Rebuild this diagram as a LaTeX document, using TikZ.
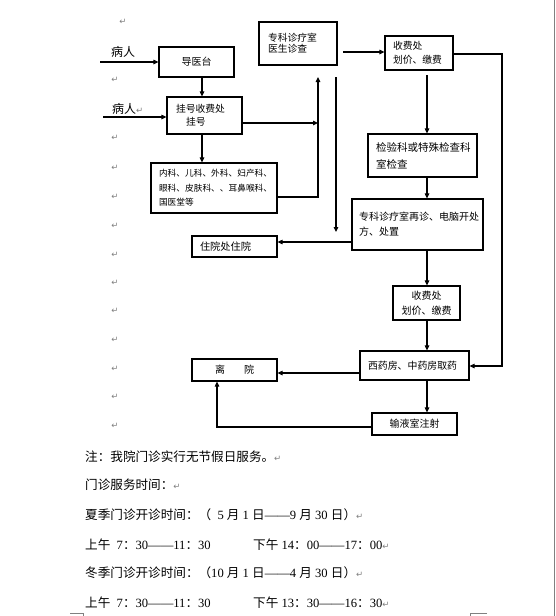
\documentclass[tikz,border=0pt]{standalone}
\usepackage{fontspec}
\setmainfont{Liberation Serif}
\newfontfamily\cjk{Noto Sans CJK SC}
\newfontfamily\markfont{DejaVu Sans}
\usetikzlibrary{arrows.meta}
\newcommand{\parmk}{{\markfont\fontsize{8.5}{8.5}\selectfont\textcolor{black!50}{↵}}}

\begin{document}
\begin{tikzpicture}[x=1pt, y=-1pt,
    box/.style={draw, line width=1.2pt, inner ysep=0pt, align=left},
    arr/.style={line width=1.1pt, -{Triangle[length=5pt,width=4.5pt]}},
    pm/.style={inner sep=0pt, font=\markfont\fontsize{8.5}{8.5}\selectfont, text=black!50},
    note/.style={anchor=west, inner sep=0pt, font=\fontsize{12.6}{14}\selectfont}]
    \fill[white] (0,0) rectangle (555,616);
    \useasboundingbox (0,0) rectangle (555,616);
    \draw[gray, line width=1pt] (554,0) -- (554,616);
    % boxes
    \node[box, inner xsep=7pt, text width=61pt, minimum height=30pt, align=center, font=\fontsize{10}{13}\cjk] (daoyi) at (196.5,62) {导医台};
    \node[box, inner xsep=9pt, text width=57pt, minimum height=37pt, font=\fontsize{9.8}{13}\cjk] (guahao) at (204.5,115.5) {挂号收费处\\\hspace*{10pt}挂号};
    \node[box, inner xsep=9pt, text width=60pt, minimum height=43pt, font=\fontsize{9.8}{11}\cjk] (zhuanke) at (298,43.5) {专科诊疗室\\医生诊查};
    \node[box, inner xsep=8pt, text width=52pt, minimum height=34pt, font=\fontsize{9.8}{14}\cjk] (shoufei1) at (419,53) {收费处\\划价、缴费};
    \node[box, inner xsep=8pt, text width=110pt, minimum height=50pt, font=\fontsize{8.7}{14.5}\cjk] (neike) at (214,188) {内科、儿科、外科、妇产科、\\眼科、皮肤科、、耳鼻喉科、\\国医堂等};
    \node[box, inner xsep=8pt, text width=69pt, minimum height=21pt, font=\fontsize{10.2}{12}\cjk] (zhuyuan) at (234.5,246.5) {住院处住院};
    \node[box, inner xsep=8pt, text width=93pt, minimum height=43pt, font=\fontsize{10.5}{17}\cjk] (jianyan) at (422.5,155.5) {检验科或特殊检查科\\室检查};
    \node[box, inner xsep=7pt, text width=117pt, minimum height=51pt, font=\fontsize{10}{15}\cjk] (zaizhen) at (417.5,224.5) {专科诊疗室再诊、电脑开处\\方、处置};
    \node[box, inner xsep=4pt, text width=59pt, minimum height=34pt, align=center, font=\fontsize{10}{15}\cjk] (shoufei2) at (426.5,303) {收费处\\划价、缴费};
    \node[box, inner xsep=8pt, text width=93pt, minimum height=29pt, font=\fontsize{9.9}{12}\cjk] (yaofang) at (414.5,365.5) {西药房、中药房取药};
    \node[box, inner xsep=4pt, text width=77pt, minimum height=22pt, align=center, font=\fontsize{10}{12}\cjk] (liyuan) at (234.5,370) {离\hspace*{19pt}院};
    \node[box, inner xsep=4pt, text width=77pt, minimum height=22pt, align=center, font=\fontsize{10}{12}\cjk] (shuye) at (414.5,424) {输液室注射};
    % patients
    \node[inner sep=0pt, font=\fontsize{12}{14}\cjk] (bingren1) at (123,52) {病人};
    \node[anchor=west, inner sep=0pt, font=\fontsize{12}{14}\cjk] (bingren2) at (112,109) {病人\parmk};
    % helper points
    \coordinate (c1) at (202,0);
    \coordinate (c4) at (427,0);
    \coordinate (in1) at (100,62);
    \coordinate (in2) at (103,117);
    \coordinate (j1) at (318,123);
    \coordinate (j2) at (318,197);
    \coordinate (j3) at (318,77);
    \coordinate (j4) at (336,77);
    \coordinate (j5) at (336,232);
    \coordinate (j6) at (343,52);
    \coordinate (j7) at (502,54);
    \coordinate (j8) at (502,366);
    \coordinate (j9) at (427,75);
    \coordinate (j11) at (217,427);
    \coordinate (r1) at (0,242);
    \coordinate (r2) at (0,373);
    % connectors
    \foreach \from/\to in {daoyi/guahao, guahao/neike}
        \draw[arr] (\from.south -| c1) -- (\to.north -| c1);
    \foreach \from/\to in {jianyan/zaizhen, zaizhen/shoufei2, shoufei2/yaofang, yaofang/shuye}
        \draw[arr] (\from.south -| c4) -- (\to.north -| c4);
    \draw[arr] (in1) -- (in1 -| daoyi.west);
    \draw[arr] (in2) -- (in2 -| guahao.west);
    \draw[arr] (guahao.east |- j1) -- (j1);
    \draw[arr] (neike.east |- j2) -- (j2) -- (j3);
    \draw[arr] (j4) -- (j5);
    \draw[arr] (j6) -- (j6 -| shoufei1.west);
    \draw[arr] (shoufei1.east |- j7) -- (j7) -- (j8) -- (j8 -| yaofang.east);
    \draw[arr] (j9) -- (jianyan.north -| c4);
    \draw[arr] (zaizhen.west |- r1) -- (zhuyuan.east |- r1);
    \draw[arr] (yaofang.west |- r2) -- (liyuan.east |- r2);
    \draw[arr] (shuye.west |- j11) -- (j11) -- (liyuan.south -| j11);
    % paragraph marks
    \node[pm] (pm0) at (123,22) {↵};
    \foreach \y in {80,138,168,197,226,255,283,311,340,369,397,426}
        \node[pm] (pm\y) at (115,\y) {↵};
    % notes
    \node[note] (note1) at (85,457) {{\cjk 注：我院门诊实行无节假日服务。}\parmk};
    \node[note] (note2) at (85,485) {{\cjk 门诊服务时间：}\parmk};
    \node[note] (note3) at (85,515) {{\cjk 夏季门诊开诊时间：（}\ \ 5 {\cjk 月} 1 {\cjk 日}——9 {\cjk 月} 30 {\cjk 日）}\parmk};
    \node[note] (note4) at (85,545) {{\cjk 上午}\ \ 7{\cjk ：}30——11{\cjk ：}30};
    \node[note] (note4b) at (253,545) {{\cjk 下午} 14{\cjk ：}00——17{\cjk ：}00\parmk};
    \node[note] (note5) at (85,573) {{\cjk 冬季门诊开诊时间：（}10 {\cjk 月} 1 {\cjk 日}——4 {\cjk 月} 30 {\cjk 日）}\parmk};
    \node[note] (note6) at (85,603) {{\cjk 上午}\ \ 7{\cjk ：}30——11{\cjk ：}30};
    \node[note] (note6b) at (253,603) {{\cjk 下午} 13{\cjk ：}30——16{\cjk ：}30\parmk};
    % corner marks
    \draw[gray, line width=0.8pt] (70,613) -- (83,613) -- (83,616);
    \draw[gray, line width=0.8pt] (487,613) -- (470,613) -- (470,616);
\end{tikzpicture}
\end{document}
